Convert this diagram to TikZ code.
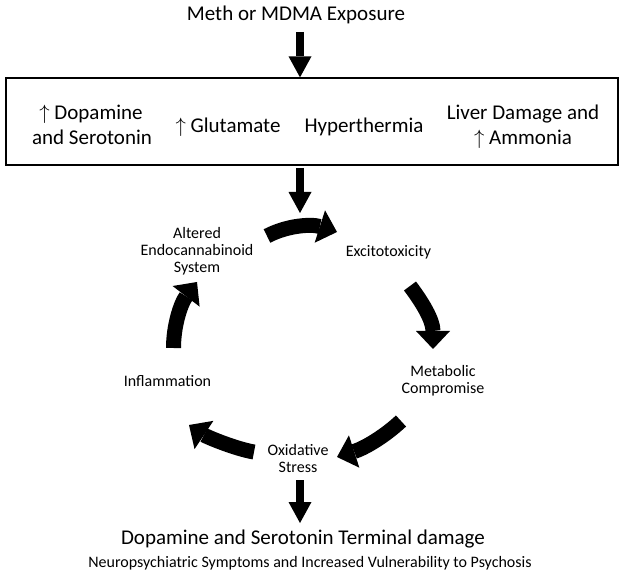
\documentclass[tikz,border=0pt]{standalone}
\usepackage{fontspec}
\setmainfont{Carlito}
\usetikzlibrary{arrows.meta}
\begin{document}
\begin{tikzpicture}[x=1pt,y=-1pt,
  lbl/.style={inner sep=0pt, anchor=base, font=\fontsize{16}{19}\selectfont},
  big/.style={inner sep=0pt, anchor=base, font=\fontsize{21}{25}\selectfont},
  straight/.style={line width=7.5pt, -{Triangle[length=21pt,width=23pt,line width=0pt]}},
  cyc/.style={line width=15pt, -{Triangle[length=18pt,width=34pt,line width=0pt]}},
]
\useasboundingbox (0,0) rectangle (624,577);
% top
\node[big] (meth) at (296,20.7) {Meth or MDMA Exposure};
\node[draw, line width=1.3pt, minimum width=612pt, minimum height=87pt, inner sep=0pt] (box) at (312,121.5) {};
\node[big] (dop1) at (91,120) {$\uparrow$ Dopamine};
\node[big] (dop2) at (92,145) {and Serotonin};
\node[big] (glu) at (228,132.5) {$\uparrow$ Glutamate};
\node[big] (hyp) at (364,132.5) {Hyperthermia};
\node[big] (liv1) at (523,120) {Liver Damage and};
\node[big] (liv2) at (523,145) {$\uparrow$ Ammonia};
% cycle labels
\node[lbl] (aes1) at (197,239) {Altered};
\node[lbl] (aes2) at (197,256) {Endocannabinoid};
\node[lbl] (aes3) at (197,273) {System};
\node[lbl] (exc) at (388.5,256.7) {Excitotoxicity};
\node[lbl] (met1) at (443,376.7) {Metabolic};
\node[lbl] (met2) at (443,393.5) {Compromise};
\node[lbl] (infl) at (167.5,386.7) {Inflammation};
\node[lbl] (oxi1) at (298,455) {Oxidative};
\node[lbl] (oxi2) at (298,472.3) {Stress};
% bottom
\node[big] (dsd) at (303,544) {Dopamine and Serotonin Terminal damage};
\node[lbl] (neu) at (310,567) {Neuropsychiatric Symptoms and Increased Vulnerability to Psychosis};
% straight arrows
\coordinate (a1s) at (300,32);
\coordinate (a2s) at (300,168);
\coordinate (a3s) at (300,480);
\draw[straight] (a1s) -- (a1s |- box.north);
\draw[straight] (a2s) -- (300,213);
\draw[straight] (a3s) -- (300,523);
% cycle arrows
\coordinate (t1) at (267,236); \coordinate (h1) at (337,232);
\coordinate (t2) at (410,286); \coordinate (h2) at (433,349);
\coordinate (t3) at (401,421); \coordinate (h3) at (337,457);
\coordinate (t4) at (254,452); \coordinate (h4) at (189,425);
\coordinate (t5) at (173.5,348); \coordinate (h5) at (197,282);
\draw[cyc] (t1) .. controls (288,225) and (312,224) .. (h1);
\draw[cyc] (t2) .. controls (422,302) and (433,320) .. (h2);
\draw[cyc] (t3) .. controls (385,436) and (365,448) .. (h3);
\draw[cyc] (t4) .. controls (236,449) and (207,437) .. (h4);
\draw[cyc] (t5) .. controls (173.5,325) and (181,303) .. (h5);
\end{tikzpicture}
\end{document}
